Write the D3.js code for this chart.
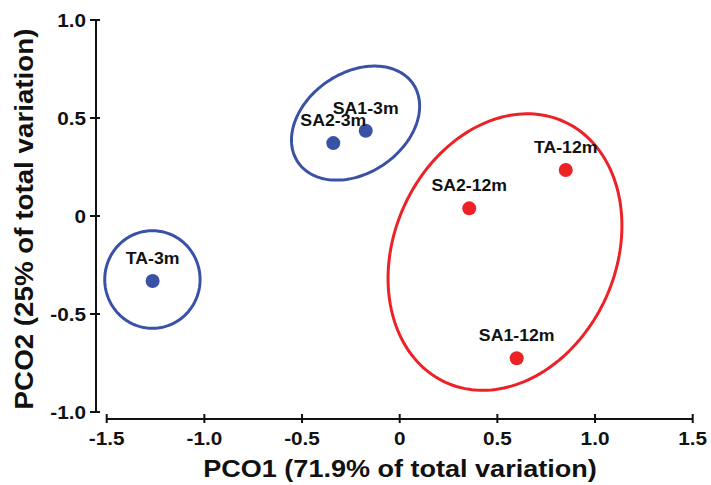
<!DOCTYPE html>
<html>
<head>
<meta charset="utf-8">
<script src="https://cdn.jsdelivr.net/npm/d3@7"></script>
<style>
  html, body { margin: 0; padding: 0; background: #fff; }
  svg { display: block; }
  text { font-family: "Liberation Sans", Arial, Helvetica, sans-serif; font-weight: bold; fill: #111; }
</style>
</head>
<body>
<svg id="chart" width="711" height="485"></svg>
<script>
// ---- data ----
const sampleNames = ["TA-3m", "SA2-3m", "SA1-3m", "SA2-12m", "TA-12m", "SA1-12m"];
const pco1Values  = [-1.265, -0.340, -0.174, 0.356, 0.850, 0.599];
const pco2Values  = [-0.332, 0.372, 0.435, 0.039, 0.235, -0.726];
const sampleGroup = ["3m", "3m", "3m", "12m", "12m", "12m"];

// confidence ellipses (data units): centre, semi-axes, rotation (degrees)
const ellipseGroup = ["3m", "3m", "12m"];
const ellipseCx    = [-1.266, -0.226, 0.539];
const ellipseCy    = [-0.324, 0.474, -0.184];
const ellipseA     = [0.244, 0.356, 0.731];
const ellipseB     = [0.249, 0.256, 0.567];
const ellipseAngle = [0, 34, 65.4];

const xTicks = [-1.5, -1.0, -0.5, 0, 0.5, 1.0, 1.5];
const yTicks = [-1.0, -0.5, 0, 0.5, 1.0];
const xTickLabels = ["-1.5", "-1.0", "-0.5", "0", "0.5", "1.0", "1.5"];
const yTickLabels = ["-1.0", "-0.5", "0", "0.5", "1.0"];
const xTitle = "PCO1 (71.9% of total variation)";
const yTitle = "PCO2 (25% of total variation)";

const groupColor = { "3m": "#3a52a5", "12m": "#ec2227" };

// ---- drawing ----
const svg = d3.select("#chart");
const x = d3.scaleLinear().domain([-1.5, 1.5]).range([106.7, 692.7]);
const y = d3.scaleLinear().domain([-1, 1]).range([412, 20]);

function stretch(sel, factor) {
  sel.each(function () {
    const len = this.getComputedTextLength();
    d3.select(this).attr("textLength", len * factor).attr("lengthAdjust", "spacingAndGlyphs");
  });
}

// Y axis
const yAxisX = 96;
svg.append("line")
  .attr("x1", yAxisX).attr("x2", yAxisX)
  .attr("y1", y(1)).attr("y2", y(-1))
  .attr("stroke", "#111").attr("stroke-width", 2);
svg.selectAll(".ytick").data(yTicks).enter().append("line")
  .attr("x1", yAxisX - 6).attr("x2", yAxisX + 4)
  .attr("y1", d => y(d)).attr("y2", d => y(d))
  .attr("stroke", "#111").attr("stroke-width", 2);
const yLab = svg.selectAll(".ylab").data(yTicks).enter().append("text")
  .attr("x", 86).attr("y", d => y(d) + 6.6)
  .attr("text-anchor", "end").attr("font-size", 18.5)
  .text((d, i) => yTickLabels[i]);
stretch(yLab, 1.12);

// X axis
const xAxisY = 419;
svg.append("line")
  .attr("x1", x(-1.5)).attr("x2", x(1.5))
  .attr("y1", xAxisY).attr("y2", xAxisY)
  .attr("stroke", "#111").attr("stroke-width", 2);
svg.selectAll(".xtick").data(xTicks).enter().append("line")
  .attr("x1", d => x(d)).attr("x2", d => x(d))
  .attr("y1", xAxisY - 5).attr("y2", xAxisY + 4)
  .attr("stroke", "#111").attr("stroke-width", 2);
const xLab = svg.selectAll(".xlab").data(xTicks).enter().append("text")
  .attr("x", d => x(d)).attr("y", 445)
  .attr("text-anchor", "middle").attr("font-size", 18.5)
  .text((d, i) => xTickLabels[i]);
stretch(xLab, 1.12);

// Titles
const xt = svg.append("text")
  .attr("x", 400).attr("y", 476.5)
  .attr("text-anchor", "middle").attr("font-size", 23.5)
  .text(xTitle);
stretch(xt, 1.15);
const yt = svg.append("text")
  .attr("transform", "translate(33,219) rotate(-90)")
  .attr("text-anchor", "middle").attr("font-size", 25)
  .text(yTitle);
stretch(yt, 1.11);

// Ellipses
const ellipses = ellipseGroup.map((g, i) => ({
  g, cx: ellipseCx[i], cy: ellipseCy[i], a: ellipseA[i], b: ellipseB[i], ang: ellipseAngle[i]
}));
const line = d3.line().x(p => x(p[0])).y(p => y(p[1])).curve(d3.curveLinearClosed);
svg.selectAll(".ell").data(ellipses).enter().append("path")
  .attr("d", e => {
    const r = e.ang * Math.PI / 180;
    const pts = d3.range(0, 360, 2).map(deg => {
      const t = deg * Math.PI / 180;
      const px = e.a * Math.cos(t), py = e.b * Math.sin(t);
      return [e.cx + px * Math.cos(r) - py * Math.sin(r), e.cy + px * Math.sin(r) + py * Math.cos(r)];
    });
    return line(pts);
  })
  .attr("fill", "none")
  .attr("stroke", e => groupColor[e.g])
  .attr("stroke-width", 3);

// Points
const pts = sampleNames.map((n, i) => ({ n, x: pco1Values[i], y: pco2Values[i], g: sampleGroup[i] }));
svg.selectAll(".pt").data(pts).enter().append("circle")
  .attr("cx", d => x(d.x)).attr("cy", d => y(d.y)).attr("r", 7)
  .attr("fill", d => groupColor[d.g]);
const pl = svg.selectAll(".pl").data(pts).enter().append("text")
  .attr("x", d => x(d.x)).attr("y", d => y(d.y) - 17)
  .attr("text-anchor", "middle").attr("font-size", 17)
  .text(d => d.n);
stretch(pl, 1.04);
</script>
</body>
</html>
